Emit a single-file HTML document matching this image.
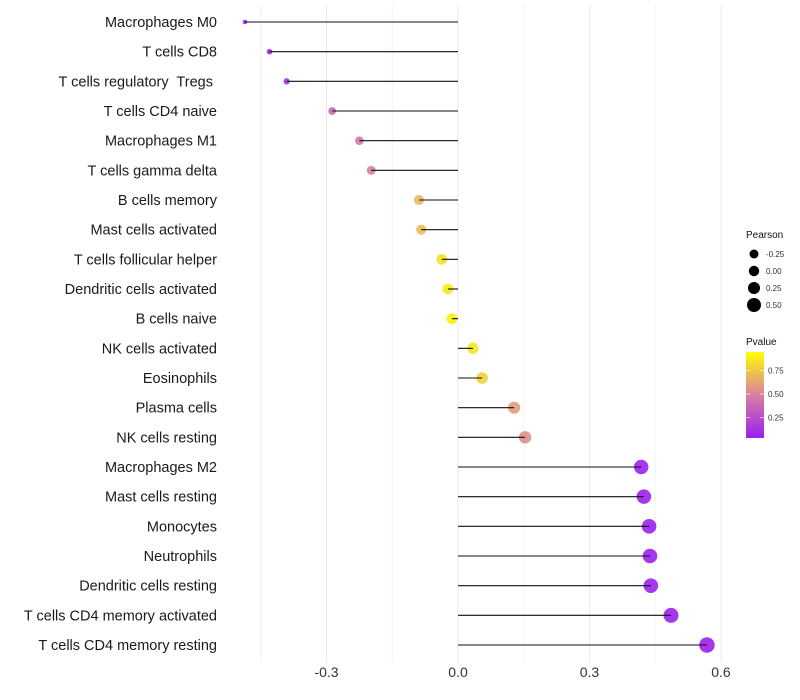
<!DOCTYPE html>
<html><head><meta charset="utf-8"><style>
body{margin:0;background:#fff;font-family:"Liberation Sans",sans-serif}
svg{display:block}
text{white-space:pre}
</style></head><body>
<svg id="chart" width="800" height="700"></svg>
<script>
const categories=["Macrophages M0","T cells CD8","T cells regulatory  Tregs ","T cells CD4 naive","Macrophages M1","T cells gamma delta","B cells memory","Mast cells activated","T cells follicular helper","Dendritic cells activated","B cells naive","NK cells activated","Eosinophils","Plasma cells","NK cells resting","Macrophages M2","Mast cells resting","Monocytes","Neutrophils","Dendritic cells resting","T cells CD4 memory activated","T cells CD4 memory resting"];
const pearson=[-0.486,-0.43,-0.391,-0.287,-0.225,-0.198,-0.089,-0.084,-0.037,-0.023,-0.014,0.034,0.055,0.128,0.153,0.418,0.424,0.436,0.438,0.44,0.486,0.568];
const pvalues=[0.02,0.05,0.1,0.38,0.46,0.5,0.72,0.74,0.88,0.92,0.95,0.9,0.82,0.62,0.56,0.01,0.01,0.01,0.01,0.01,0.01,0.01];
const xTicks=[-0.3,0,0.3,0.6];
const xTickLabels=["-0.3","0.0","0.3","0.6"];
const sizeLegend=[-0.25,0,0.25,0.5];
const colorLegendTicks=[0.75,0.5,0.25];

const NS="http://www.w3.org/2000/svg";
const svg=document.getElementById('chart');
function el(t,a,p){const e=document.createElementNS(NS,t);for(const k in a)e.setAttribute(k,a[k]);(p||svg).appendChild(e);return e;}
const x=v=>458+v*438.3;
const y=i=>22+i*29.667;
function lerp(a,b,t){return a.map((c,i)=>Math.round(c+(b[i]-c)*t));}
function color(p){const s0=[155,31,240],s1=[217,128,160],s2=[255,255,0];
 const c=p<0.5?lerp(s0,s1,p/0.5):lerp(s1,s2,(p-0.5)/0.5);return `rgb(${c})`;}
const pmin=Math.min(...pearson),pmax=Math.max(...pearson);
const rad=v=>Math.sqrt(5+(v-pmin)/(pmax-pmin)*55);

[-0.45,-0.15,0.15,0.45].forEach(v=>{const g=el('line',{x1:x(v),x2:x(v),y1:5,y2:663,stroke:'#f3f3f3','stroke-width':1});
});
xTicks.forEach((v,i)=>{const g=el('line',{x1:x(v),x2:x(v),y1:5,y2:663,stroke:'#ebebeb','stroke-width':1});

const t=el('text',{x:x(v),y:677,'text-anchor':'middle','font-size':14,fill:'#333'});t.textContent=xTickLabels[i];
});

categories.forEach((c,i)=>{
 const t=el('text',{x:217,y:y(i)+5,'text-anchor':'end','font-size':14.5,fill:'#1a1a1a','xml:space':'preserve'});t.textContent=c;
 
 const pt=el('circle',{cx:x(pearson[i]),cy:y(i),r:rad(pearson[i]),fill:color(pvalues[i]),'fill-opacity':0.9});
 
 const ln=el('line',{x1:x(0),x2:x(pearson[i]),y1:y(i),y2:y(i),stroke:'#111','stroke-width':1.1});
 
});

const lt=el('text',{x:746,y:238,'font-size':10,fill:'#111'});lt.textContent='Pearson';

const lr=[4.5,5.2,6,7];
sizeLegend.forEach((v,i)=>{const cy=254+i*17;
 const c=el('circle',{cx:754,cy:cy,r:lr[i],fill:'#000'});
 const t=el('text',{x:766,y:cy+3,'font-size':8,fill:'#333'});t.textContent=v.toFixed(2);
 });
const ct=el('text',{x:746,y:345,'font-size':10,fill:'#111'});ct.textContent='Pvalue';

const defs=el('defs',{});const lg=el('linearGradient',{id:'pg',x1:0,y1:1,x2:0,y2:0},defs);
[0,0.5,1].forEach(o=>el('stop',{offset:o,'stop-color':color(o)},lg));
const bar=el('rect',{x:746,y:352,width:18,height:86,fill:'url(#pg)'});

colorLegendTicks.forEach(v=>{const yy=441-v*94;
 el('line',{x1:746,x2:750,y1:yy,y2:yy,stroke:'#fff','stroke-opacity':0.6});el('line',{x1:760,x2:764,y1:yy,y2:yy,stroke:'#fff','stroke-opacity':0.6});
 const t=el('text',{x:768,y:yy+3,'font-size':8,fill:'#333'});t.textContent=v.toFixed(2);
 });
</script>
</body></html>
